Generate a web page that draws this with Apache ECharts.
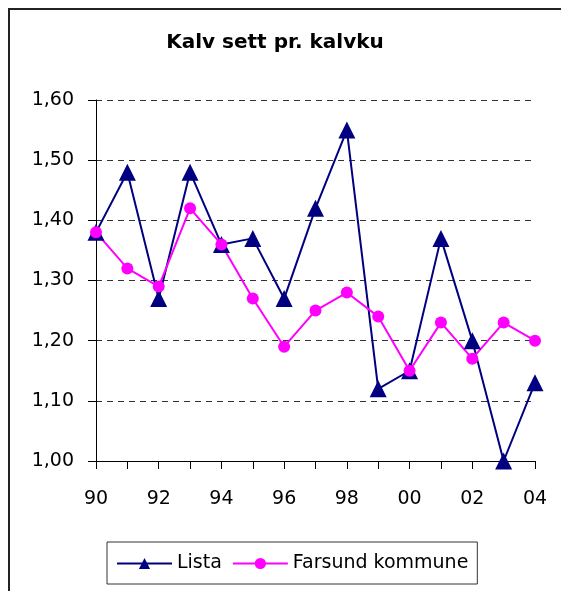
<!DOCTYPE html>
<html>
<head>
<meta charset="utf-8">
<script src="https://cdn.jsdelivr.net/npm/echarts@6/dist/echarts.min.js"></script>
<style>
html,body{margin:0;padding:0;background:#fff;}
#chart{width:561px;height:591px;}
</style>
</head>
<body>
<div id="chart"></div>
<script>
var years = ['90','91','92','93','94','95','96','97','98','99','00','01','02','03','04'];
var lista = [1.38,1.48,1.27,1.48,1.36,1.37,1.27,1.42,1.55,1.12,1.15,1.37,1.20,1.00,1.13];
var farsund = [1.38,1.32,1.29,1.42,1.36,1.27,1.19,1.25,1.28,1.24,1.15,1.23,1.17,1.23,1.20];
var seriesNames = ['Lista','Farsund kommune'];
var titleText = 'Kalv sett pr. kalvku';

var chart = echarts.init(document.getElementById('chart'), null, {renderer:'canvas'});
var font = 'DejaVu Sans, sans-serif';
chart.setOption({
  animation:false,
  backgroundColor:'#fff',
  title:{
    text:titleText, left:270, textAlign:'center', top:28,
    textStyle:{fontFamily:font,fontSize:20,fontWeight:'bold',color:'#000'}
  },
  graphic:[
    {type:'polyline', shape:{points:[[9,591],[9,9],[561,9]]}, style:{stroke:'#222',lineWidth:2,fill:null}, silent:true}
  ],
  legend:{
    data:seriesNames,
    left:107, top:542,
    padding:[12,9,11,9],
    itemGap:10, itemWidth:55, itemHeight:14,
    borderColor:'#333', borderWidth:1,
    textStyle:{fontFamily:font,fontSize:19,color:'#000'}
  },
  grid:{left:96,right:26,top:100,bottom:130},
  xAxis:{
    type:'category', data:years, boundaryGap:false,
    axisLine:{lineStyle:{color:'#000',width:1}},
    axisTick:{show:true,interval:0,length:8,lineStyle:{color:'#000'}},
    axisLabel:{interval:1,margin:29,fontFamily:font,fontSize:19,color:'#000'},
    splitLine:{show:false}
  },
  yAxis:{
    type:'value', min:1.0, max:1.6, interval:0.1,
    axisLine:{show:true,lineStyle:{color:'#000',width:1}},
    axisTick:{show:true,length:8,lineStyle:{color:'#000'}},
    axisLabel:{margin:22,fontFamily:font,fontSize:19,color:'#000',
      formatter:function(v){return v.toFixed(2).replace('.',',');}},
    splitLine:{show:true,lineStyle:{color:'#333',width:1,type:[6,5]}}
  },
  series:[
    {name:seriesNames[0], type:'line', data:lista, symbol:'triangle', symbolSize:17,
     itemStyle:{color:'#000080'}, lineStyle:{color:'#000080',width:2}},
    {name:seriesNames[1], type:'line', data:farsund, symbol:'circle', symbolSize:12,
     itemStyle:{color:'#ff00ff'}, lineStyle:{color:'#ff00ff',width:2}}
  ]
});
</script>
</body>
</html>
